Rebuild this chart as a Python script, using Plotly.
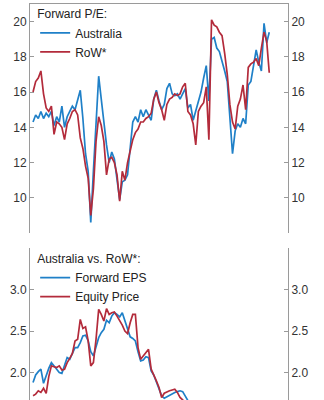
import pandas as pd
import plotly.graph_objects as go

# Quarterly observation dates
dates = pd.date_range("2003-10-01", periods=91, freq="3MS")

# Forward P/E
pe_australia = [14.3, 14.7, 14.5, 14.9, 14.5, 14.8, 14.6, 14.9, 14.1, 14.6,
                14.3, 15.2, 14.0, 14.6, 14.9, 15.2, 15.0, 15.6, 16.1, 14.5,
                12.5, 11.5, 8.6, 11.5, 14.5, 16.9, 15.6, 14.2, 13.0, 12.0,
                12.6, 12.2, 11.0, 9.9, 10.9, 11.0, 11.3, 12.7, 14.3, 14.6,
                14.3, 15.0, 14.6, 15.0, 14.7, 14.4, 15.6, 16.1, 15.5, 15.0,
                15.3, 16.2, 16.5, 15.9, 15.8, 15.9, 15.6, 15.9, 16.2, 15.1,
                15.3, 14.4, 14.9, 15.4, 16.0, 16.8, 17.5, 15.5, 19.0, 19.1,
                18.5, 18.3, 17.8, 17.2, 16.6, 14.4, 12.5, 13.8, 14.2, 14.0,
                14.5, 14.2, 16.4, 16.6, 17.5, 18.4, 17.7, 17.2, 19.9, 18.8,
                19.4]
pe_row = [16.0, 16.6, 16.8, 17.2, 15.9, 15.1, 14.9, 15.2, 13.6, 14.3,
          14.2, 14.0, 13.3, 14.2, 14.5, 14.9, 15.0, 14.7, 13.4, 12.8,
          11.8, 11.1, 9.0, 10.5, 13.2, 14.6, 14.1, 13.2, 11.3, 12.2,
          12.3, 12.0, 11.3, 9.8, 11.5, 11.0, 12.0, 12.6, 13.3, 13.7,
          13.9, 14.3, 14.3, 14.5, 14.6, 14.8, 15.6, 16.0, 15.4, 15.0,
          14.4, 15.3, 15.6, 15.7, 15.9, 15.8, 15.9, 16.3, 16.5, 14.9,
          14.7, 14.2, 13.0, 14.9, 15.2, 15.4, 16.3, 13.3, 20.1, 19.8,
          19.7, 19.4, 19.2, 18.2, 17.0, 15.3, 14.3, 13.9, 15.2, 15.6,
          16.4, 15.0, 17.4, 17.6, 17.7, 17.9, 17.5, 18.5, 19.4, 18.9,
          17.1]

# Australia vs. RoW* relative
rel_eps = [1.88, 1.97, 2.01, 2.04, 1.87, 1.97, 2.05, 2.12, 2.08, 2.04,
           2.00, 1.99, 2.10, 2.18, 2.16, 2.22, 2.30, 2.30, 2.36, 2.44,
           2.45, 2.38, 2.25, 2.20, 2.32, 2.42, 2.48, 2.52, 2.63, 2.60,
           2.68, 2.72, 2.70, 2.67, 2.72, 2.62, 2.52, 2.43, 2.41, 2.38,
           2.25, 2.14, 2.15, 2.19, 2.18, 2.02, 1.97, 1.88, 1.80, 1.72,
           1.69, 1.71, 1.72, 1.74, 1.76, 1.77, 1.78, 1.77, 1.72, 1.66,
           1.60, 1.55, 1.50]
rel_price = [1.72, 1.74, 1.78, 1.76, 1.81, 1.75, 1.95, 2.08, 2.07, 2.06,
             2.08, 2.03, 2.04, 2.12, 2.17, 2.23, 2.38, 2.40, 2.64, 2.53,
             2.55, 2.38, 2.08, 2.12, 2.40, 2.76, 2.70, 2.62, 2.77, 2.70,
             2.72, 2.73, 2.68, 2.63, 2.57, 2.50, 2.47, 2.60, 2.70, 2.70,
             2.30, 2.16, 2.20, 2.25, 2.28, 2.04, 1.98, 1.90, 1.82, 1.70,
             1.75, 1.77, 1.78, 1.79, 1.80, 1.76, 1.70, 1.67, 1.63, 1.58,
             1.54, 1.50]

top_ticks = [10, 12, 14, 16, 18, 20]
bottom_ticks = [2.0, 2.5, 3.0]

BLUE = "#1f80c8"
RED = "#b32b3b"
AXIS = "#9a9a9a"
FONT = "Liberation Sans, Arial, sans-serif"
LW = 1.7

fig = go.Figure()
fig.add_trace(go.Scatter(x=dates, y=pe_australia, name="Australia", mode="lines",
                         line=dict(color=BLUE, width=LW), xaxis="x", yaxis="y",
                         legend="legend"))
fig.add_trace(go.Scatter(x=dates, y=pe_row, name="RoW*", mode="lines",
                         line=dict(color=RED, width=LW), xaxis="x", yaxis="y",
                         legend="legend"))
fig.add_trace(go.Scatter(x=dates[:len(rel_eps)], y=rel_eps, name="Forward EPS", mode="lines",
                         line=dict(color=BLUE, width=LW), xaxis="x2", yaxis="y2",
                         legend="legend2"))
fig.add_trace(go.Scatter(x=dates[:len(rel_price)], y=rel_price, name="Equity Price", mode="lines",
                         line=dict(color=RED, width=LW), xaxis="x2", yaxis="y2",
                         legend="legend2"))
# invisible carriers so the right-hand mirror axes get drawn
fig.add_trace(go.Scatter(x=dates, y=pe_row, mode="lines", line=dict(width=0),
                         opacity=0, showlegend=False, hoverinfo="skip",
                         xaxis="x", yaxis="y3"))
fig.add_trace(go.Scatter(x=dates[:len(rel_price)], y=rel_price, mode="lines",
                         line=dict(width=0), opacity=0, showlegend=False,
                         hoverinfo="skip", xaxis="x2", yaxis="y4"))

xrange = ["2003-06-18", "2028-01-13"]
common_x = dict(range=xrange, showgrid=False, zeroline=False, showticklabels=False,
                ticks="", fixedrange=True)
common_y = dict(showgrid=False, zeroline=False, showline=True, linecolor=AXIS, linewidth=1,
                ticks="inside", ticklen=4, tickcolor=AXIS,
                tickfont=dict(family=FONT, size=12, color="#333333"))

fig.update_layout(
    width=324, height=400,
    margin=dict(l=30, r=36, t=0, b=0),
    paper_bgcolor="white", plot_bgcolor="white",
    font=dict(family=FONT, size=12, color="#222222"),
    showlegend=True,
    xaxis=dict(domain=[0, 1], anchor="y", side="top", showline=True, linecolor=AXIS,
               linewidth=1, **common_x),
    yaxis=dict(domain=[0.4175, 0.99], range=[8, 21], tickvals=top_ticks, anchor="x",
               side="left", **common_y),
    yaxis3=dict(overlaying="y", range=[8, 21], tickvals=top_ticks, anchor="x",
                side="right", **common_y),
    xaxis2=dict(domain=[0, 1], anchor="y2", showline=False, **common_x),
    yaxis2=dict(domain=[0, 0.38], range=[1.669, 3.5], tickvals=bottom_ticks,
                tickformat=".1f", anchor="x2", side="left", **common_y),
    yaxis4=dict(overlaying="y2", range=[1.669, 3.5], tickvals=bottom_ticks,
                tickformat=".1f", anchor="x2", side="right", **common_y),
    legend=dict(x=0.02, y=0.993, xanchor="left", yanchor="top", bgcolor="rgba(0,0,0,0)",
                title=dict(text="Forward P/E:", font=dict(size=12)),
                font=dict(size=12), tracegroupgap=0, itemwidth=30),
    legend2=dict(x=0.02, y=0.381, xanchor="left", yanchor="top", bgcolor="rgba(0,0,0,0)",
                 title=dict(text="Australia vs. RoW*:", font=dict(size=12)),
                 font=dict(size=12), tracegroupgap=0, itemwidth=30),
)

fig.write_html("out.html")
